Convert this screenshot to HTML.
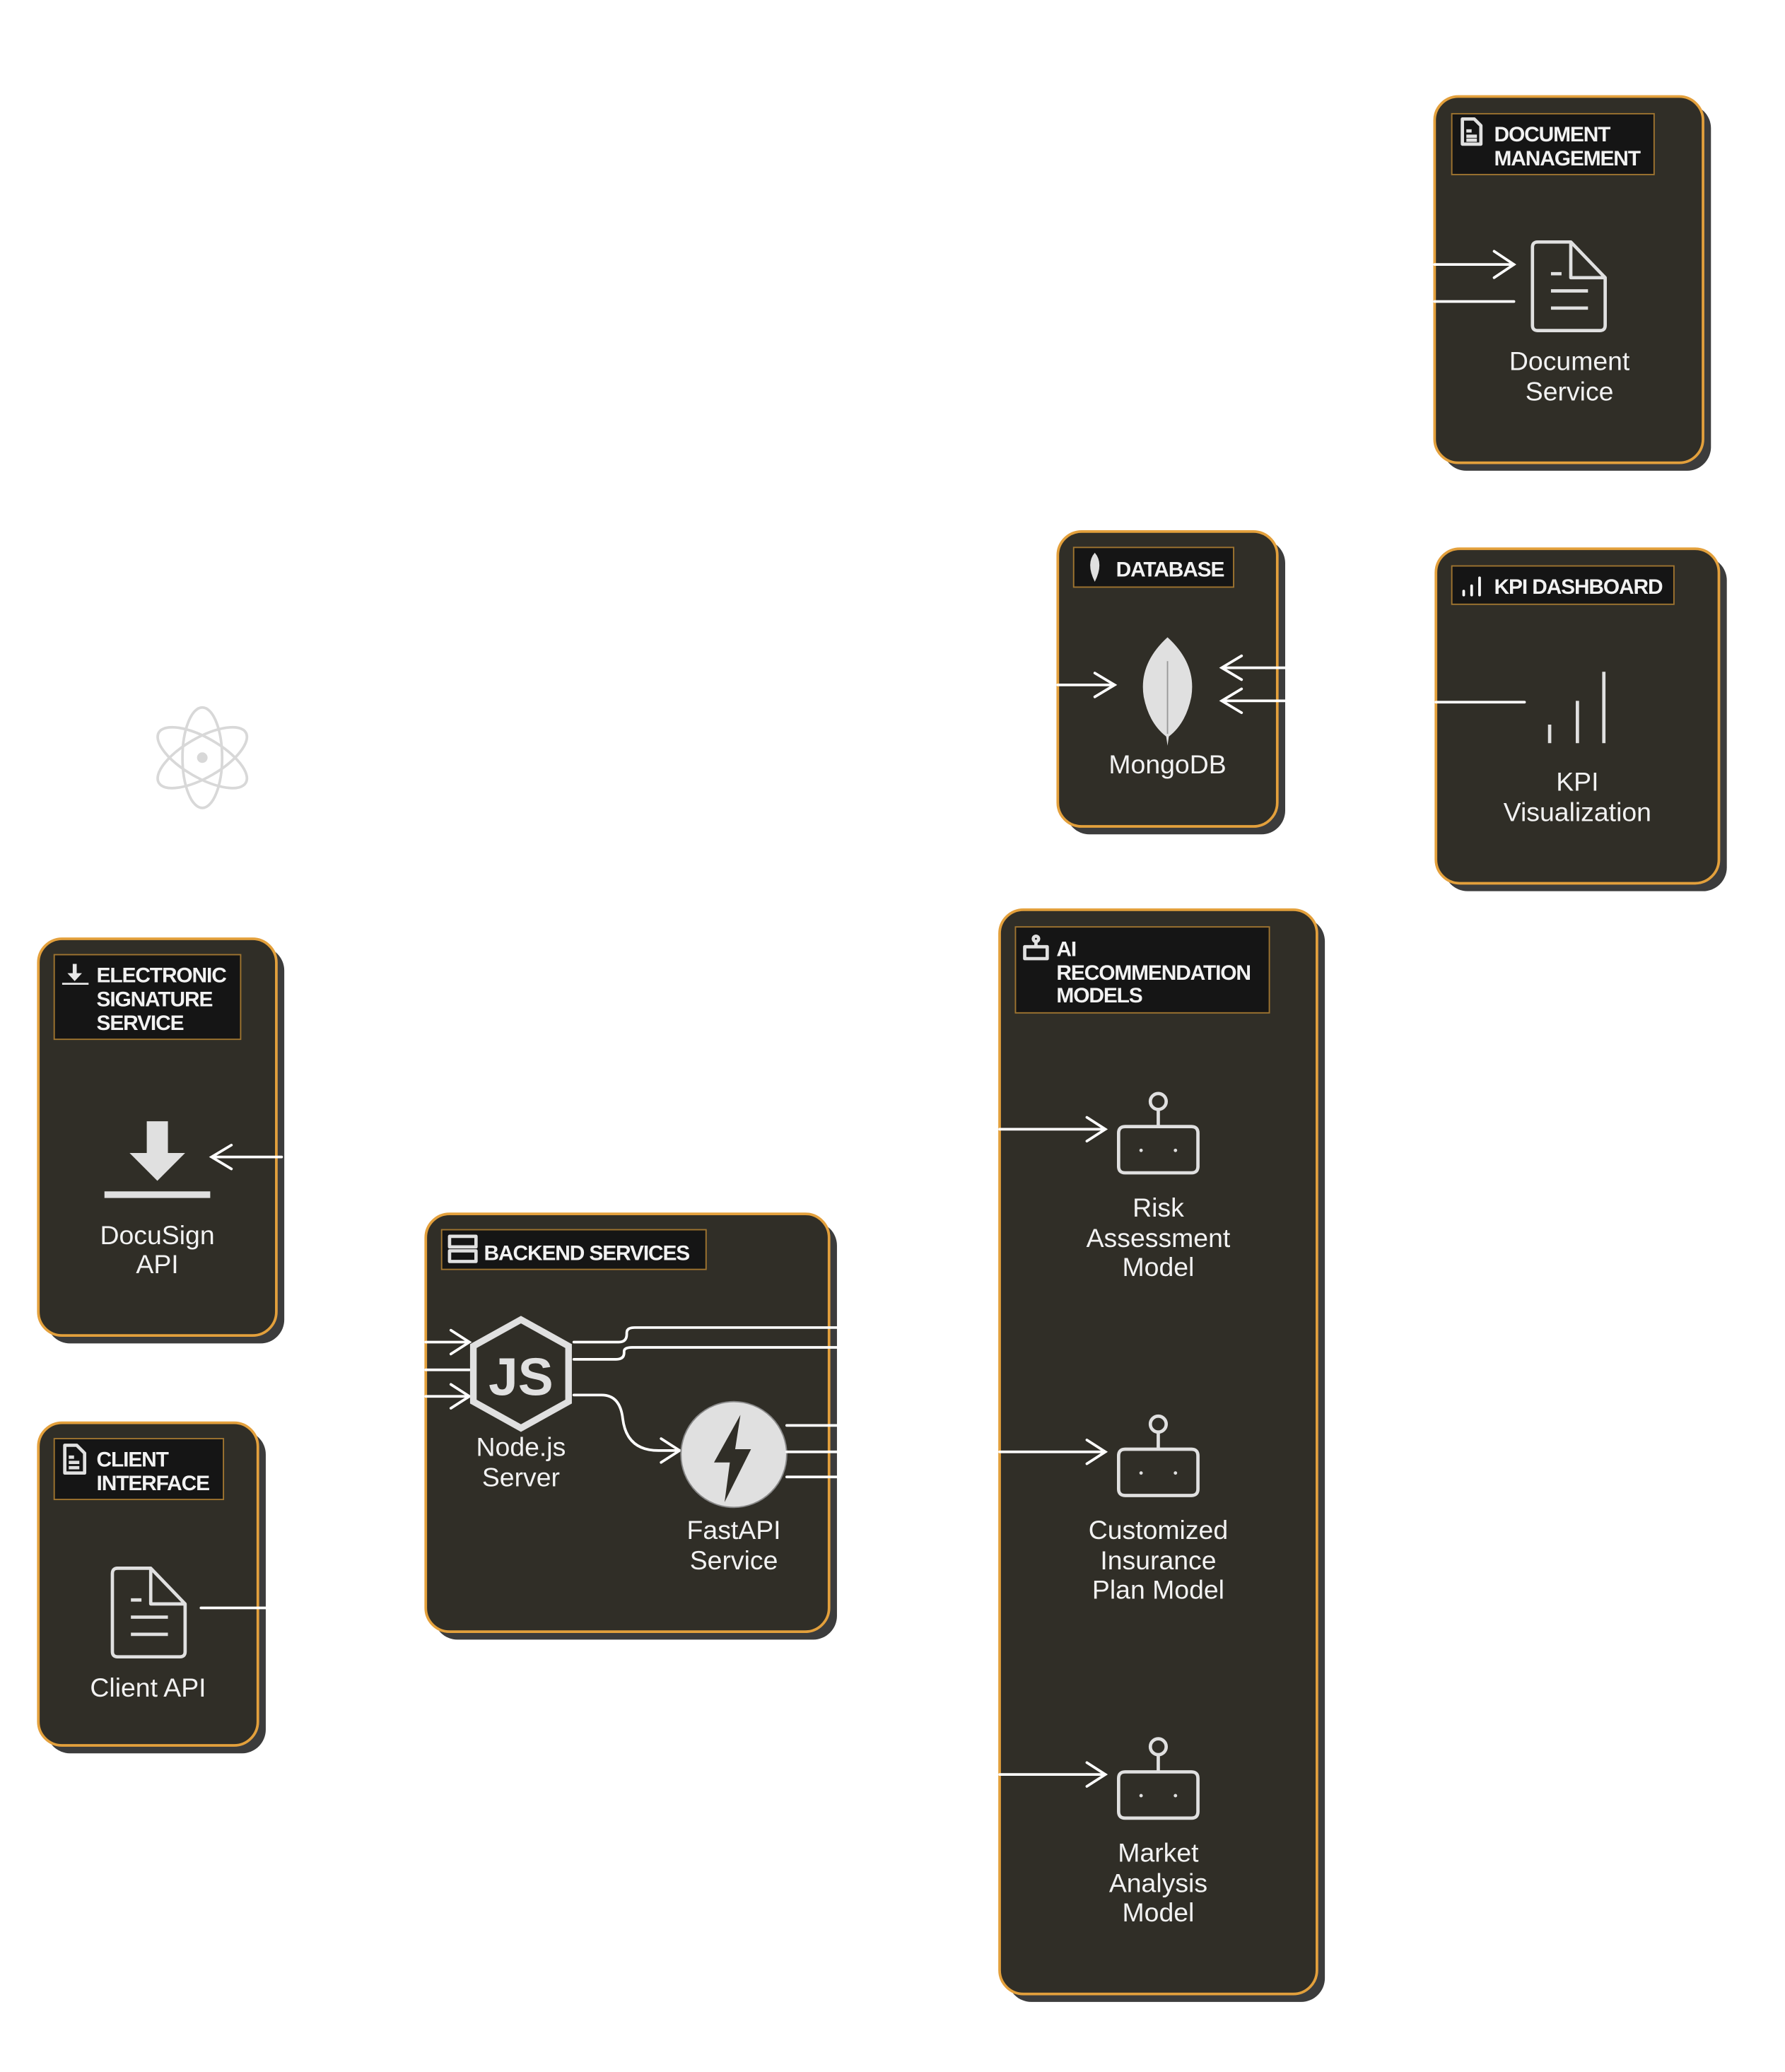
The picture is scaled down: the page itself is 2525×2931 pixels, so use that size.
<!DOCTYPE html>
<html><head><meta charset="utf-8"><style>
html,body{margin:0;padding:0;background:#fff;width:2525px;height:2931px;overflow:hidden}
svg{display:block}
text{font-family:"Liberation Sans",sans-serif;fill:#f2f2f2}
.h{font-weight:bold;font-size:16px;letter-spacing:-0.6px}
.l{font-size:20px;text-anchor:middle}
.box{fill:#302e27;stroke:#e3a03c;stroke-width:2}
.sh{fill:#3c3c3c}
.hd{fill:#151515;stroke:#a07530;stroke-width:1}
.w{stroke:#fff;stroke-width:2;fill:none;stroke-linecap:round}
.ic{stroke:#e0e0e0;stroke-width:2.5;fill:none;stroke-linejoin:round}
</style></head><body>
<svg width="2525" height="2931" viewBox="0 0 1350 1567" preserveAspectRatio="none">
<!-- atom icon -->
<g stroke="#cfcfcf" stroke-width="2" fill="none" opacity="0.8">
<ellipse cx="153" cy="573" rx="38" ry="15" transform="rotate(-30 153 573)"/>
<ellipse cx="153" cy="573" rx="38" ry="15" transform="rotate(30 153 573)"/>
<ellipse cx="153" cy="573" rx="15" ry="38"/>
<circle cx="153" cy="573" r="3" fill="#cfcfcf"/>
</g>

<!-- DOCUMENT MANAGEMENT -->
<rect class="sh" x="1091" y="79" width="203" height="277" rx="18"/>
<rect class="box" x="1085" y="73" width="203" height="277" rx="18"/>
<rect class="hd" x="1098" y="86" width="153" height="46"/>
<path class="ic" stroke-width="1.5" d="M1106 90h9l5 5v14h-14z M1109 99h4 M1109 103h8 M1109 106h8"/>
<text class="h" x="1130" y="107">DOCUMENT</text>
<text class="h" x="1130" y="125">MANAGEMENT</text>
<path class="w" d="M1085 200H1145 M1130 190l15 10l-15 10 M1085 228H1145"/>
<path class="ic" d="M1163 183h25l26 27v36q0 4-4 4h-47q-4 0-4-4v-59q0-4 4-4z M1188 183v27h26 M1173 207h8 M1173 220h28 M1173 233h28"/>
<text class="l" x="1187" y="280">Document</text>
<text class="l" x="1187" y="303">Service</text>

<!-- DATABASE -->
<rect class="sh" x="806" y="408" width="166" height="223" rx="18"/>
<rect class="box" x="800" y="402" width="166" height="223" rx="18"/>
<rect class="hd" x="812" y="414" width="121" height="30"/>
<path d="M828 418q7 8 0 22q-7-14 0-22z" fill="#e0e0e0"/>
<text class="h" x="844" y="436">DATABASE</text>
<path class="w" d="M800 518H843 M828 509l15 9l-15 9 M972 505H924 M939 496l-15 9l15 9 M972 530H924 M939 521l-15 9l15 9"/>
<path d="M883 482q22 20 18 45q-4 20-17 30l-1 7l-1-7q-13-10-17-30q-4-25 18-45z" fill="#e0e0e0"/>
<path d="M883 500v55" stroke="#999" stroke-width="1"/>
<text class="l" x="883" y="585">MongoDB</text>

<!-- KPI DASHBOARD -->
<rect class="sh" x="1092" y="421" width="214" height="253" rx="18"/>
<rect class="box" x="1086" y="415" width="214" height="253" rx="18"/>
<rect class="hd" x="1098" y="428" width="168" height="29"/>
<path class="w" stroke-width="1.5" d="M1107 450v-3 M1113 450v-7 M1119 450v-13"/>
<text class="h" x="1130" y="449">KPI DASHBOARD</text>
<path class="w" d="M1086 531H1153"/>
<path class="ic" d="M1172 548v14 M1193 530v32 M1213 508v54"/>
<text class="l" x="1193" y="598">KPI</text>
<text class="l" x="1193" y="621">Visualization</text>

<!-- AI RECOMMENDATION MODELS -->
<rect class="sh" x="762" y="694" width="240" height="820" rx="18"/>
<rect class="box" x="756" y="688" width="240" height="820" rx="18"/>
<rect class="hd" x="768" y="701" width="192" height="65"/>
<path class="ic" stroke-width="1.3" d="M775 716h17v9h-17z M783.5 716v-4 M783.5 710m-2 0a2 2 0 1 0 4 0a2 2 0 1 0-4 0"/>
<text class="h" x="799" y="723">AI</text>
<text class="h" x="799" y="741">RECOMMENDATION</text>
<text class="h" x="799" y="758">MODELS</text>
<g id="rb">
<path class="w" d="M756 854H836 M822 845l14 9l-14 9"/>
<circle class="ic" cx="876" cy="833" r="6"/>
<path class="ic" d="M876 839v13 M851 852h50q5 0 5 5v25q0 5-5 5h-50q-5 0-5-5v-25q0-5 5-5z"/>
<circle cx="863" cy="870" r="1.3" fill="#e0e0e0"/><circle cx="889" cy="870" r="1.3" fill="#e0e0e0"/>
</g>
<use href="#rb" y="244"/>
<use href="#rb" y="488"/>
<text class="l" x="876" y="920">Risk</text>
<text class="l" x="876" y="943">Assessment</text>
<text class="l" x="876" y="965">Model</text>
<text class="l" x="876" y="1164">Customized</text>
<text class="l" x="876" y="1187">Insurance</text>
<text class="l" x="876" y="1209">Plan Model</text>
<text class="l" x="876" y="1408">Market</text>
<text class="l" x="876" y="1431">Analysis</text>
<text class="l" x="876" y="1453">Model</text>

<!-- ELECTRONIC SIGNATURE -->
<rect class="sh" x="35" y="716" width="180" height="300" rx="18"/>
<rect class="box" x="29" y="710" width="180" height="300" rx="18"/>
<rect class="hd" x="41" y="722" width="141" height="64"/>
<path d="M55 729h3v7h4l-5.5 6l-5.5-6h4z" fill="#e8e8e8"/>
<path d="M47 744h20" stroke="#e8e8e8" stroke-width="1.5"/>
<text class="h" x="73" y="743">ELECTRONIC</text>
<text class="h" x="73" y="761">SIGNATURE</text>
<text class="h" x="73" y="779">SERVICE</text>
<path d="M111 848h16v24h13l-21 21l-21-21h13z" fill="#e0e0e0"/>
<rect x="79" y="901" width="80" height="5" fill="#e0e0e0"/>
<path class="w" d="M213 875H160 M175 866l-15 9l15 9"/>
<text class="l" x="119" y="941">DocuSign</text>
<text class="l" x="119" y="963">API</text>

<!-- CLIENT INTERFACE -->
<rect class="sh" x="35" y="1082" width="166" height="244" rx="18"/>
<rect class="box" x="29" y="1076" width="166" height="244" rx="18"/>
<rect class="hd" x="41" y="1088" width="128" height="46"/>
<path class="ic" stroke-width="1.5" d="M49 1093h9l6 6v15h-15z M52 1102h4 M52 1106h8 M52 1110h8"/>
<text class="h" x="73" y="1109">CLIENT</text>
<text class="h" x="73" y="1127">INTERFACE</text>
<path class="ic" d="M89 1186h25l26 27v36q0 4-4 4h-47q-4 0-4-4v-59q0-4 4-4z M114 1186v27h26 M99 1210h8 M99 1223h28 M99 1236h28"/>
<path class="w" d="M152 1216H203"/>
<text class="l" x="112" y="1283">Client API</text>

<!-- BACKEND SERVICES -->
<rect class="sh" x="328" y="924" width="305" height="316" rx="18"/>
<rect class="box" x="322" y="918" width="305" height="316" rx="18"/>
<rect class="hd" x="334" y="930" width="200" height="30"/>
<path class="ic" stroke-width="1.5" d="M340 935h20v8h-20z M340 946h20v8h-20z"/>
<text class="h" x="366" y="953">BACKEND SERVICES</text>
<path class="w" d="M322 1015H355 M341 1006l14 9l-14 9 M322 1036H355 M322 1056H355 M341 1047l14 9l-14 9"/>
<path d="M394 998l36 20v42l-36 20l-36-20v-42z" fill="none" stroke="#e0e0e0" stroke-width="5"/>
<text x="394" y="1055" text-anchor="middle" style="font-size:40px;font-weight:bold;fill:#e0e0e0">JS</text>
<path class="w" d="M434 1015H468q6 0 6-6v-1q0-4 6-4H633 M434 1028H466q6 0 6-5v-1q0-3 6-3H633 M434 1055H455q14 0 16 18q3 24 27 24h16 M500 1088l14 9l-14 9"/>
<circle cx="555" cy="1100" r="40" fill="#e0e0e0" stroke="#888" stroke-width="1"/>
<path d="M560 1070l-20 36h12l-4 30l20-40h-12z" fill="#302e27"/>
<path class="w" d="M595 1078H633 M595 1098H633 M595 1117H633"/>
<text class="l" x="394" y="1101">Node.js</text>
<text class="l" x="394" y="1124">Server</text>
<text class="l" x="555" y="1164">FastAPI</text>
<text class="l" x="555" y="1187">Service</text>
</svg>
</body></html>
